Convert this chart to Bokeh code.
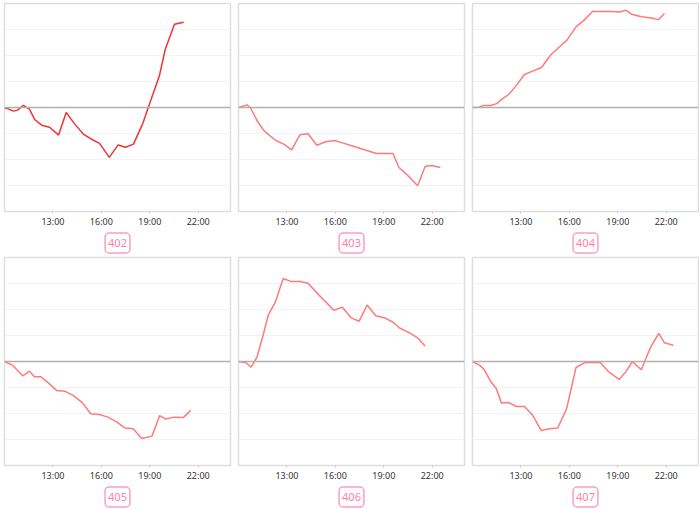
from bokeh.plotting import figure
from bokeh.layouts import gridplot
from bokeh.models import FixedTicker, Span, Range1d
from bokeh.embed import file_html
from bokeh.resources import INLINE

# ---- data (hours of day, value) ----
names = ["402", "403", "404", "405", "406", "407"]

t402 = [10.0, 10.57, 10.8, 11.17, 11.54, 11.87, 12.3, 12.79, 13.35, 13.82, 14.33, 14.9,
        15.36, 15.89, 16.49, 17.04, 17.5, 17.99, 18.55, 19.03, 19.59, 19.96, 20.53, 21.1]
v402 = [0, -0.14, -0.10, 0.08, -0.06, -0.46, -0.68, -0.76, -1.06, -0.19, -0.62, -1.03,
        -1.21, -1.38, -1.92, -1.44, -1.53, -1.41, -0.64, 0.22, 1.21, 2.24, 3.2, 3.28]

t403 = [10.0, 10.53, 10.74, 11.19, 11.6, 11.97, 12.32, 12.83, 13.29, 13.8, 14.31, 14.85,
        15.4, 15.95, 16.49, 17.02, 17.56, 18.05, 18.54, 19.57, 19.94, 20.43, 21.1, 21.56,
        21.95, 22.5]
v403 = [0, 0.10, -0.01, -0.55, -0.91, -1.10, -1.27, -1.42, -1.63, -1.05, -1.01, -1.45,
        -1.32, -1.27, -1.37, -1.47, -1.58, -1.67, -1.77, -1.77, -2.31, -2.58, -3.01, -2.27,
        -2.23, -2.31]

t404 = [10.0, 10.41, 10.72, 11.13, 11.5, 11.85, 12.26, 12.73, 13.22, 13.76, 14.27, 14.83,
        15.34, 15.85, 16.41, 16.92, 17.43, 18.11, 18.69, 19.1, 19.51, 19.86, 20.47, 21.09,
        21.54, 21.89]
v404 = [0, 0.01, 0.08, 0.08, 0.15, 0.33, 0.51, 0.86, 1.27, 1.41, 1.54, 2.01,
        2.31, 2.59, 3.1, 3.36, 3.69, 3.69, 3.69, 3.67, 3.74, 3.59, 3.49, 3.44,
        3.38, 3.62]

t405 = [10.0, 10.51, 11.13, 11.54, 11.85, 12.26, 12.77, 13.24, 13.74, 14.27, 14.83, 15.34,
        15.87, 16.41, 16.94, 17.47, 17.97, 18.5, 19.14, 19.61, 19.96, 20.51, 21.09, 21.54]
v405 = [0, -0.15, -0.55, -0.37, -0.59, -0.59, -0.85, -1.12, -1.14, -1.31, -1.59, -2.01,
        -2.04, -2.14, -2.32, -2.56, -2.59, -2.96, -2.87, -2.08, -2.21, -2.14, -2.15, -1.88]

t406 = [10.0, 10.47, 10.78, 11.15, 11.5, 11.85, 12.28, 12.77, 13.24, 13.82, 14.31, 14.85,
        15.36, 15.91, 16.43, 16.98, 17.47, 17.97, 18.5, 19.1, 19.57, 19.98, 20.6, 21.09,
        21.56]
v406 = [0, -0.05, -0.22, 0.18, 0.95, 1.79, 2.28, 3.19, 3.08, 3.08, 3.01, 2.64,
        2.32, 1.97, 2.09, 1.68, 1.55, 2.17, 1.76, 1.67, 1.51, 1.29, 1.10, 0.91,
        0.60]

t407 = [10.0, 10.45, 10.72, 11.13, 11.48, 11.79, 12.24, 12.71, 13.22, 13.74, 14.25, 14.76,
        15.28, 15.83, 16.41, 16.96, 17.43, 17.91, 18.46, 19.08, 19.53, 19.9, 20.45, 21.02,
        21.54, 21.89, 22.46]
v407 = [0, -0.15, -0.31, -0.77, -1.05, -1.60, -1.58, -1.73, -1.73, -2.08, -2.65, -2.59,
        -2.56, -1.82, -0.23, -0.04, -0.04, -0.04, -0.41, -0.69, -0.37, 0.0, -0.32, 0.53,
        1.08, 0.72, 0.62]

tick_hours = [13, 16, 19, 22]
tick_labels = ["13:00", "16:00", "19:00", "22:00"]
grid_levels = [-3, -2, -1, 1, 2, 3]

series = [(t402, v402), (t403, v403), (t404, v404), (t405, v405), (t406, v406), (t407, v407)]
colors = ["#f03434", "#ff7a7a", "#ff7a7a", "#ff7a7a", "#ff7a7a", "#ff7a7a"]

X0, X1 = 10, 24
Y0, Y1 = -4, 4
FRAME_W, FRAME_H = 226, 208
BT, BB = 3, 43

figs = []
for i, (name, (t, v), col) in enumerate(zip(names, series, colors)):
    last_col = (i % 3 == 2)
    bl, br = 4, (1 if last_col else 4)
    p = figure(width=FRAME_W + bl + br, height=FRAME_H + BT + BB,
               output_backend="svg", toolbar_location=None,
               x_range=Range1d(X0, X1), y_range=Range1d(Y0, Y1),
               min_border_left=bl, min_border_right=br,
               min_border_top=BT, min_border_bottom=BB,
               title=name, title_location="below")
    p.outline_line_color = "#dedede"
    p.outline_line_width = 1.5
    p.background_fill_color = "white"
    p.border_fill_color = "white"
    p.yaxis.visible = False
    p.xgrid.visible = False
    p.ygrid.ticker = FixedTicker(ticks=grid_levels)
    p.ygrid.grid_line_color = "#f3f3f3"
    p.ygrid.grid_line_width = 1

    ax = p.xaxis[0]
    ax.ticker = FixedTicker(ticks=tick_hours)
    ax.major_label_overrides = {h: s for h, s in zip(tick_hours, tick_labels)}
    ax.axis_line_color = None
    ax.major_tick_in = 0
    ax.major_tick_out = 2
    ax.major_tick_line_color = "#cccccc"
    ax.minor_tick_line_color = None
    ax.major_label_text_font = "Noto Sans"
    ax.major_label_text_font_size = "9px"
    ax.major_label_text_color = "#333333"
    ax.major_label_standoff = 1

    tt = p.title
    tt.align = "center"
    tt.text_font = "Noto Sans"
    tt.text_font_size = "11px"
    tt.text_font_style = "normal"
    tt.text_color = "#ff7fa6"
    tt.border_line_color = "#ff9fbd"
    tt.border_line_width = 1.5
    tt.border_radius = 4
    tt.background_fill_color = "white"
    tt.padding = (3, 6)
    tt.offset = 0
    tt.standoff = 1

    p.add_layout(Span(location=0, dimension="width", line_color="#b0b0b0", line_width=1.5))
    p.line(t, v, line_color=col, line_width=1.5)
    figs.append(p)

grid = gridplot(figs, ncols=3, toolbar_location=None)
grid.spacing = 0

open("out.html", "w").write(file_html(grid, INLINE))
